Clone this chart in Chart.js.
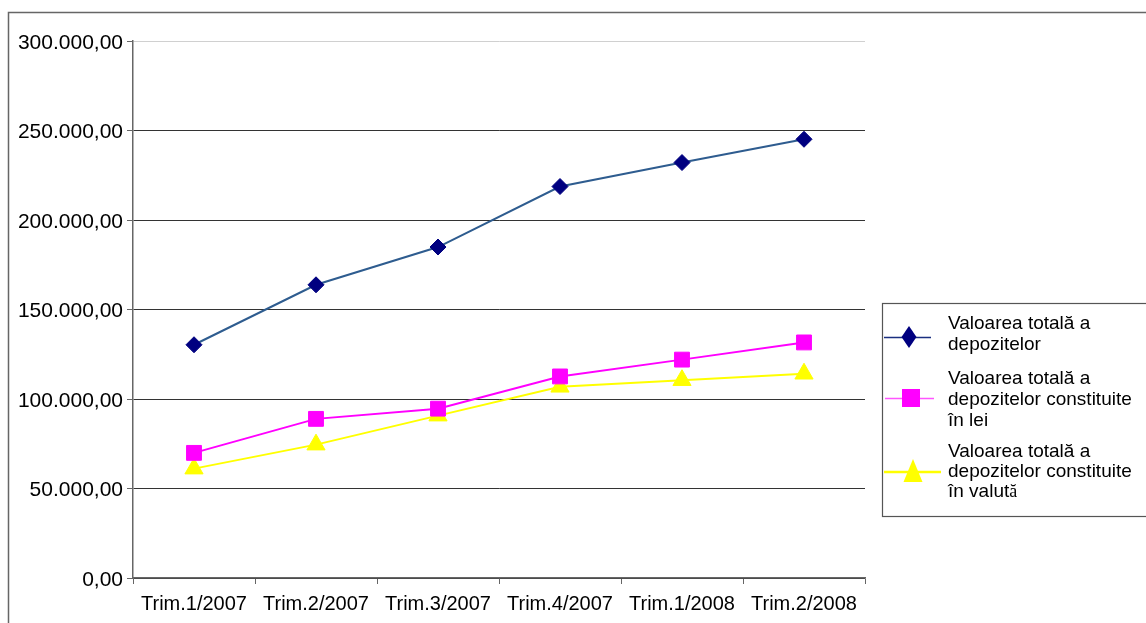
<!DOCTYPE html>
<html><head><meta charset="utf-8">
<script src="https://cdn.jsdelivr.net/npm/chart.js@4/dist/chart.umd.min.js"></script>
<style>html,body{margin:0;padding:0;background:#fff;overflow:hidden}#wrap{position:relative;width:1146px;height:623px}</style>
</head><body><div id="wrap"><canvas id="c" width="1146" height="623"></canvas></div>
<script>
const categories = ["Trim.1/2007", "Trim.2/2007", "Trim.3/2007", "Trim.4/2007", "Trim.1/2008", "Trim.2/2008"];
const totalDeposits = [130300, 163800, 184900, 218700, 232100, 245100];
const leiDeposits = [69900, 88900, 94600, 112600, 122000, 131600];
const currencyDeposits = [61100, 74500, 90700, 106800, 110500, 114100];
const yTickValues = [0, 50000, 100000, 150000, 200000, 250000, 300000];
const seriesNames = [
  ["Valoarea totală a", "depozitelor"],
  ["Valoarea totală a", "depozitelor constituite", "în lei"],
  ["Valoarea totală a", "depozitelor constituite", "în valută"]
];

const FONT = "'Liberation Sans', Arial, sans-serif";

function fmt(v) {
  const s = Math.round(v).toString().replace(/\B(?=(\d{3})+(?!\d))/g, ".");
  return s + ",00";
}

const framePlugin = {
  id: 'frame',
  beforeDraw(chart) {
    const ctx = chart.ctx;
    ctx.save();
    ctx.fillStyle = '#fff';
    ctx.fillRect(0, 0, chart.width, chart.height);
    ctx.strokeStyle = '#666';
    ctx.lineWidth = 1.5;
    ctx.strokeRect(8.5, 12.5, 1300, 800);
    ctx.restore();
  }
};

const legendPlugin = {
  id: 'customLegend',
  afterDraw(chart) {
    const ctx = chart.ctx;
    ctx.save();
    ctx.strokeStyle = '#555';
    ctx.lineWidth = 1.2;
    ctx.strokeRect(882.5, 303.5, 400, 213);
    ctx.fillStyle = '#000';
    const LF = "19px " + FONT;
    ctx.font = LF;
    ctx.textBaseline = 'alphabetic';
    const textX = 948;
    const baselines = [[329, 350], [384, 405, 426], [457, 477, 497]];
    seriesNames.forEach((lines, i) => {
      lines.forEach((t, j) => {
        const y = baselines[i][j];
        if (i === 2 && j === 2) {
          const base = t.slice(0, -1);
          ctx.font = LF;
          ctx.fillText(base, textX, y);
          const w = ctx.measureText(base).width;
          ctx.font = "18px 'Liberation Serif', 'Times New Roman', serif";
          ctx.fillText(t.slice(-1), textX + w, y);
          ctx.font = LF;
        } else {
          ctx.fillText(t, textX, y);
        }
      });
    });
    ctx.strokeStyle = '#1a2f80';
    ctx.lineWidth = 1.5;
    ctx.beginPath(); ctx.moveTo(884, 337.5); ctx.lineTo(931, 337.5); ctx.stroke();
    ctx.fillStyle = '#000080';
    ctx.beginPath();
    ctx.moveTo(909, 326); ctx.lineTo(916.5, 337); ctx.lineTo(909, 348); ctx.lineTo(901.5, 337);
    ctx.closePath(); ctx.fill();
    ctx.strokeStyle = '#ff55ff';
    ctx.lineWidth = 1.5;
    ctx.beginPath(); ctx.moveTo(885, 398.5); ctx.lineTo(934, 398.5); ctx.stroke();
    ctx.fillStyle = '#ff00ff';
    ctx.fillRect(902, 389, 18, 18);
    ctx.strokeStyle = '#ffff00';
    ctx.lineWidth = 2.5;
    ctx.beginPath(); ctx.moveTo(884, 472); ctx.lineTo(941, 472); ctx.stroke();
    ctx.fillStyle = '#ffff00';
    ctx.beginPath();
    ctx.moveTo(913, 459); ctx.lineTo(922.5, 482); ctx.lineTo(903.5, 482);
    ctx.closePath(); ctx.fill();
    ctx.restore();
  }
};

new Chart(document.getElementById('c'), {
  type: 'line',
  data: {
    labels: categories,
    datasets: [
      {
        label: seriesNames[0].join(' '),
        data: totalDeposits,
        borderColor: '#2e5c8f',
        borderWidth: 2,
        pointStyle: 'rectRot',
        pointRadius: 8,
        pointBackgroundColor: '#000080',
        pointBorderColor: '#000080',
        pointBorderWidth: 1,
        tension: 0
      },
      {
        label: seriesNames[1].join(' '),
        data: leiDeposits,
        borderColor: '#ff00ff',
        borderWidth: 2,
        pointStyle: 'rect',
        pointRadius: 10.5,
        pointBackgroundColor: '#ff00ff',
        pointBorderColor: '#ff00ff',
        pointBorderWidth: 1,
        tension: 0
      },
      {
        label: seriesNames[2].join(' '),
        data: currencyDeposits,
        borderColor: '#ffff00',
        borderWidth: 2,
        pointStyle: 'triangle',
        pointRadius: 10.5,
        pointBackgroundColor: '#ffff00',
        pointBorderColor: '#ffff00',
        pointBorderWidth: 1,
        tension: 0
      }
    ]
  },
  options: {
    responsive: false,
    animation: false,
    devicePixelRatio: 1,
    layout: { padding: { left: 0, top: 41, right: 281, bottom: 0 } },
    plugins: { legend: { display: false }, tooltip: { enabled: false } },
    scales: {
      x: {
        offset: true,
        afterFit(scale) { scale.height = 45; },
        grid: {
          offset: true,
          drawOnChartArea: false,
          drawTicks: true,
          tickLength: 6,
          tickColor: '#666'
        },
        border: { color: '#666', width: 1.5 },
        ticks: {
          font: { family: FONT, size: 20 },
          color: '#000',
          padding: 8,
          maxRotation: 0,
          autoSkip: false
        }
      },
      y: {
        min: 0,
        max: 300000,
        afterFit(scale) { scale.width = 133; },
        afterBuildTicks(scale) { scale.ticks = yTickValues.map(v => ({ value: v })); },
        grid: {
          color: (ctx) => (ctx.tick && ctx.tick.value === 300000) ? '#d0d0d0' : '#333',
          lineWidth: 1,
          drawTicks: true,
          tickLength: 6,
          tickColor: '#666'
        },
        border: { color: '#666', width: 1.5 },
        ticks: {
          font: { family: FONT, size: 21 },
          color: '#000',
          padding: 4,
          labelOffset: 2,
          callback: (v) => fmt(v)
        }
      }
    }
  },
  plugins: [framePlugin, legendPlugin]
});
</script>
</body></html>
